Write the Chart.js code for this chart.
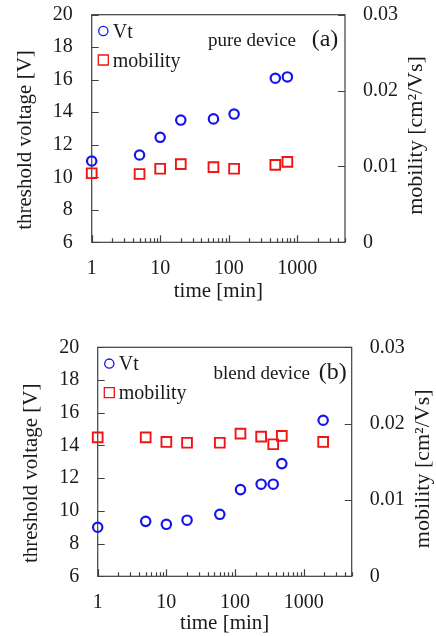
<!DOCTYPE html>
<html><head><meta charset="utf-8">
<script src="https://cdn.jsdelivr.net/npm/chart.js@4.4.1/dist/chart.umd.min.js"></script>
<style>
html,body{margin:0;padding:0;background:#fff;width:436px;height:636px;overflow:hidden}
.box{position:absolute;left:0;width:436px}
#c1box{top:0;height:305px}
#c2box{top:320px;height:316px}
</style></head><body>
<div class="box" id="c1box"><canvas id="c1"></canvas></div>
<div class="box" id="c2box"><canvas id="c2"></canvas></div>
<script>
// ---- data ----
const xTicks = [1,2,3,4,5,6,7,8,9,10,20,30,40,50,60,70,80,90,100,200,300,400,500,600,700,800,900,1000,2000,3000,4000,5000];
const xLabelTicks = [1,10,100,1000];
const vtTicks = [6,8,10,12,14,16,18,20];
const mobTicks = [0,0.01,0.02,0.03];
const seriesNames = ['Vt','mobility'];
const xTitle = 'time [min]';
const vtTitle = 'threshold voltage [V]';
const mobTitle = 'mobility [cm\u00B2/Vs]';

const pureTime = [1,5,10,20,60,120,480,720];
const pureVt   = [11.0,11.37,12.46,13.52,13.59,13.89,16.09,16.17];
const pureMob  = [0.0091,0.0090,0.0097,0.0103,0.0099,0.0097,0.0102,0.0106];

const blendTime = [1,5,10,20,60,120,240,360,480,1920];
const blendVt   = [9.0,9.36,9.18,9.43,9.79,11.3,11.63,11.63,12.89,15.54];
const blendMob  = [0.0182,0.0182,0.0176,0.0175,0.0175,0.0187,0.0183,0.0173,0.0184,0.0176];

// ---- styles ----
const FONT = "'Liberation Serif', 'Times New Roman', serif";
const TEXT = '#1a1a1a';
const BLUE = 'rgb(20,20,235)';
const RED = 'rgb(240,20,20)';
const FRAME = '#404040';

const framePlugin = {
  id: 'frame',
  beforeDatasetsDraw(chart) {
    const ctx = chart.ctx, a = chart.chartArea;
    const sx = chart.scales.x, sy = chart.scales.y, sy2 = chart.scales.y2;
    ctx.save();
    ctx.strokeStyle = FRAME; ctx.lineWidth = 1.2;
    ctx.strokeRect(a.left, a.top, a.right - a.left, a.bottom - a.top);
    ctx.beginPath();
    xTicks.forEach(v => {
      const px = Math.round(sx.getPixelForValue(v)) + 0.5;
      const len = xLabelTicks.includes(v) ? 7 : 4;
      ctx.moveTo(px, a.bottom); ctx.lineTo(px, a.bottom - len);
    });
    vtTicks.forEach(v => {
      const py = Math.round(sy.getPixelForValue(v)) + 0.5;
      ctx.moveTo(a.left, py); ctx.lineTo(a.left + 7, py);
    });
    mobTicks.forEach(v => {
      const py = Math.round(sy2.getPixelForValue(v)) + 0.5;
      ctx.moveTo(a.right, py); ctx.lineTo(a.right - 7, py);
    });
    ctx.stroke();
    ctx.restore();
  },
  afterDraw(chart, args, o) {
    const ctx = chart.ctx, a = chart.chartArea;
    const cy = (a.top + a.bottom) / 2;
    ctx.save();
    ctx.fillStyle = TEXT;
    // axis titles (y)
    ctx.textAlign = 'center'; ctx.textBaseline = 'middle';
    ctx.font = '21px ' + FONT;
    ctx.save(); ctx.translate(a.left - 66.5, cy + 11.5); ctx.rotate(-Math.PI / 2);
    ctx.fillText(vtTitle, 0, 0); ctx.restore();
    ctx.font = '22px ' + FONT;
    ctx.save(); ctx.translate(a.right + 71.5, cy + 7); ctx.rotate(-Math.PI / 2);
    ctx.fillText(mobTitle, 0, 0); ctx.restore();
    // legend
    const ds = chart.data.datasets;
    const lx = a.left + 11.6;
    ctx.font = '20px ' + FONT;
    ctx.textAlign = 'left'; ctx.textBaseline = 'alphabetic';
    ds.forEach((d, i) => {
      const ly = a.top + 16.3 + i * 29;
      ctx.strokeStyle = d.borderColor; ctx.lineWidth = 1.3;
      ctx.beginPath();
      if (d.pointStyle === 'circle') ctx.arc(lx, ly, 4.6, 0, Math.PI * 2);
      else ctx.rect(lx - 5, ly - 5, 10, 10);
      ctx.stroke();
      ctx.fillStyle = TEXT;
      ctx.fillText(d.label, lx + 9.5, ly + 6.5);
    });
    // annotation
    ctx.textAlign = 'right';
    ctx.font = '19px ' + FONT;
    ctx.fillText(o.desc, a.right - o.descRight, a.top + o.base);
    ctx.font = '24px ' + FONT;
    ctx.fillText(o.tag, a.right - o.tagRight, a.top + o.base);
    ctx.restore();
  }
};

function noPad(s) { s.paddingTop = 0; s.paddingBottom = 0; s.paddingLeft = 0; s.paddingRight = 0; }

function makeChart(id, time, vt, mob, g) {
  return new Chart(document.getElementById(id), {
    type: 'scatter',
    data: { datasets: [
      { label: seriesNames[0], data: time.map((t, i) => ({x: t, y: vt[i]})), yAxisID: 'y',
        pointStyle: 'circle', pointRadius: 4.7, pointHoverRadius: 4.7, borderWidth: 2.2,
        borderColor: BLUE, backgroundColor: 'rgba(0,0,0,0)', clip: false },
      { label: seriesNames[1], data: time.map((t, i) => ({x: t, y: mob[i]})), yAxisID: 'y2',
        pointStyle: 'rect', pointRadius: 6.9, pointHoverRadius: 6.9, borderWidth: 1.9,
        borderColor: RED, backgroundColor: 'rgba(0,0,0,0)', clip: false }
    ]},
    options: {
      responsive: true, maintainAspectRatio: false, animation: false, devicePixelRatio: 1,
      layout: { padding: { top: g.top, left: 0, right: 0, bottom: 0 } },
      plugins: {
        legend: { display: false }, tooltip: { enabled: false },
        frame: { desc: g.desc, tag: g.tag, descRight: g.descRight, tagRight: g.tagRight, base: g.base }
      },
      scales: {
        x: {
          type: 'logarithmic', position: 'bottom', min: 1, max: 5000,
          afterBuildTicks: s => { s.ticks = xTicks.map(v => ({value: v})); },
          afterFit: s => { s.height = g.xh; noPad(s); },
          grid: { display: false, drawTicks: false }, border: { display: false },
          ticks: { autoSkip: false, maxRotation: 0, minRotation: 0, padding: 14, color: TEXT,
            font: { family: FONT, size: 20 },
            callback: v => xLabelTicks.includes(v) ? String(v) : '' },
          title: { display: true, text: xTitle, color: TEXT, font: { family: FONT, size: 21 },
            padding: { top: 0, bottom: g.xtp } }
        },
        y: {
          position: 'left', min: 6, max: 20,
          afterBuildTicks: s => { s.ticks = vtTicks.map(v => ({value: v})); },
          afterFit: s => { s.width = g.yw; noPad(s); },
          grid: { display: false, drawTicks: false }, border: { display: false },
          ticks: { padding: g.ypad, color: TEXT, font: { family: FONT, size: 20 } }
        },
        y2: {
          position: 'right', min: 0, max: 0.03,
          afterBuildTicks: s => { s.ticks = mobTicks.map(v => ({value: v})); },
          afterFit: s => { s.width = g.y2w; noPad(s); },
          grid: { display: false, drawTicks: false }, border: { display: false },
          ticks: { padding: 18, color: TEXT, font: { family: FONT, size: 20 },
            callback: v => v === 0 ? '0' : Number(v).toFixed(2) }
        }
      }
    },
    plugins: [framePlugin]
  });
}

makeChart('c1', pureTime, pureVt, pureMob,
  { top: 14.7, yw: 91.7, y2w: 91, xh: 62.7, xtp: 1.4, ypad: 19,
    desc: 'pure device', tag: '(a)', descRight: 49, tagRight: 6.7, base: 31 });
makeChart('c2', blendTime, blendVt, blendMob,
  { top: 27.3, yw: 97.7, y2w: 84.3, xh: 59.7, xtp: 0, ypad: 18.4,
    desc: 'blend device', tag: '(b)', descRight: 41.7, tagRight: 5, base: 32 });
</script>
</body></html>
